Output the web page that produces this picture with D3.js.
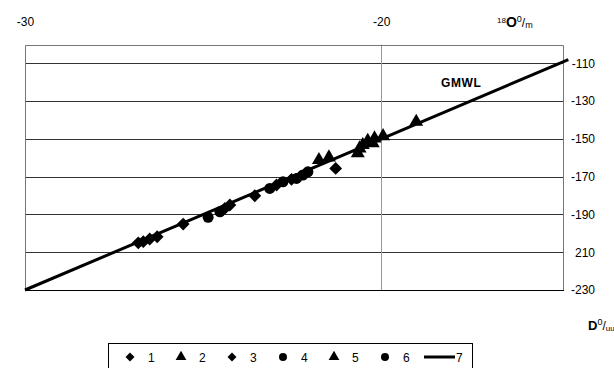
<!DOCTYPE html>
<html>
<head>
<meta charset="utf-8">
<script src="https://cdn.jsdelivr.net/npm/d3@7"></script>
<style>
	body { margin: 0; background: #fff; }
	svg { font-family: 'Liberation Sans', Arial, sans-serif; }
	.axis path { display: none; }
	.axis text { font-size: 12px; fill: #000; }
</style>
</head>
<body>
<svg id="chart" width="614" height="368"></svg>
<script>
'use strict';

// values (d18O, dD)
var xTicks = [-30, -20];
var yTicks = [-110, -130, -150, -170, -190, -210, -230];
var yTickLabels = ['-110', '-130', '-150', '-170', '-190', '210', '-230'];

var series1 = [[-26.82,-205.0],[-26.68,-204.4],[-26.29,-201.8],[-25.56,-195.1],[-23.55,-180.1]];
var series2 = [[-21.75,-161.2],[-21.47,-159.8],[-19.02,-140.9]];
var series3 = [[-26.50,-203.0],[-24.39,-186.8],[-24.25,-185.0],[-22.94,-174.4],[-22.52,-171.4],[-21.28,-165.6]];
var series4 = [[-24.86,-191.5],[-24.53,-188.6],[-23.13,-176.2],[-22.76,-172.7]];
var series5 = [[-20.66,-157.6],[-20.61,-155.0],[-20.52,-153.2],[-20.38,-151.0],[-20.24,-152.3],[-20.19,-149.7],[-19.95,-148.5]];
var series6 = [[-22.38,-170.9],[-22.20,-169.1],[-22.06,-167.4]];
var gmwl = [[-30,-230],[-14.75,-108]];

var legendNames = ['1','2','3','4','5','6','7'];

var svg = d3.select('#chart');

var x = d3.scaleLinear().domain([-30, -14.9]).range([25, 563]);
var y = d3.scaleLinear().domain([-230, -100]).range([290, 44.5]);

var plot = svg.append('g');

// grid
plot.selectAll('.hgrid')
	.data(yTicks.slice(0, -1))
	.enter().append('line')
		.attr('x1', x.range()[0]).attr('x2', x.range()[1])
		.attr('y1', d => Math.round(y(d)) + 0.5).attr('y2', d => Math.round(y(d)) + 0.5)
		.attr('stroke', '#333')
		;
plot.selectAll('.vgrid')
	.data(xTicks.slice(1))
	.enter().append('line')
		.attr('x1', d => Math.round(x(d)) + 0.5).attr('x2', d => Math.round(x(d)) + 0.5)
		.attr('y1', y.range()[1]).attr('y2', y.range()[0])
		.attr('stroke', '#999')
		;

// frame
plot.append('path')
	.attr('d', 'M' + (x.range()[0] + 0.5) + ',' + y.range()[0]
		+ 'V' + (Math.round(y.range()[1]) + 0.5)
		+ 'H' + (x.range()[1] + 0.5)
		+ 'V' + y.range()[0])
	.attr('fill', 'none')
	.attr('stroke', '#777')
	;
plot.append('line')
	.attr('x1', x.range()[0]).attr('x2', x.range()[1] + 1)
	.attr('y1', y(-230) + 0.5).attr('y2', y(-230) + 0.5)
	.attr('stroke', '#000')
	;

// axes
svg.append('g')
	.attr('class', 'x axis')
	.attr('transform', 'translate(0,' + y.range()[1] + ')')
	.call(d3.axisTop(x).tickValues(xTicks).tickSize(0).tickPadding(19).tickFormat(d => String(d)))
	;
var yAxis = svg.append('g')
	.attr('class', 'y axis')
	.attr('transform', 'translate(' + x.range()[1] + ',0)')
	.call(d3.axisRight(y).tickValues(yTicks).tickSize(0)
		.tickFormat((d, i) => yTickLabels[i]))
	;
yAxis.selectAll('text')
	.attr('text-anchor', 'end')
	.attr('x', 32)
	;

// GMWL line
var line = d3.line().x(d => x(d[0])).y(d => y(d[1]));
svg.append('path')
	.datum(gmwl)
	.attr('d', line)
	.attr('fill', 'none')
	.attr('stroke', '#000')
	.attr('stroke-width', 3)
	;
svg.append('text')
	.attr('x', 441).attr('y', 87)
	.attr('font-size', 12).attr('font-weight', 'bold')
	.attr('letter-spacing', 0.6)
	.text('GMWL')
	;

// markers
var diamond = d3.symbol(d3.symbolSquare, 82)();
var triangle = d3.symbol(d3.symbolTriangle, 85)();
var circle = d3.symbol(d3.symbolCircle, 95)();
var shapes = [
	{ data: series1, path: diamond, rot: 45 },
	{ data: series2, path: triangle, rot: 0 },
	{ data: series3, path: diamond, rot: 45 },
	{ data: series4, path: circle, rot: 0 },
	{ data: series5, path: triangle, rot: 0 },
	{ data: series6, path: circle, rot: 0 }
];
shapes.forEach(function(s) {
	svg.append('g').selectAll('path')
		.data(s.data)
		.enter().append('path')
			.attr('d', s.path)
			.attr('transform', d => 'translate(' + x(d[0]) + ',' + y(d[1]) + ') rotate(' + s.rot + ')')
			.attr('fill', '#000')
		;
});

// axis titles
var t1 = svg.append('text').attr('x', 497).attr('y', 27).attr('font-size', 12);
t1.append('tspan').attr('font-size', 8).attr('dy', -4).text('18');
t1.append('tspan').attr('font-weight', 'bold').attr('font-size', 14).attr('dy', 4).text('O');
t1.append('tspan').attr('font-size', 9).attr('dy', -5).text('0');
t1.append('tspan').attr('font-size', 12).attr('dy', 5).text('/');
t1.append('tspan').attr('font-size', 9).attr('dy', 1).text('m');

var t2 = svg.append('text').attr('x', 588).attr('y', 330).attr('font-size', 12);
t2.append('tspan').attr('font-weight', 'bold').attr('font-size', 13).text('D');
t2.append('tspan').attr('font-size', 9).attr('dy', -5).text('0');
t2.append('tspan').attr('font-size', 12).attr('dy', 5).text('/');
t2.append('tspan').attr('font-size', 8).attr('dy', 1).text('uu');

// legend
var legend = svg.append('g');
legend.append('rect')
	.attr('x', 108.5).attr('y', 343.5)
	.attr('width', 364).attr('height', 40)
	.attr('fill', '#fff').attr('stroke', '#000')
	;
var legendX = d3.scalePoint().domain(legendNames.slice(0, 6)).range([130, 385]);
var legendShapes = [
	{ path: d3.symbol(d3.symbolSquare, 40)(), rot: 45 },
	{ path: d3.symbol(d3.symbolTriangle, 50)(), rot: 0 },
	{ path: d3.symbol(d3.symbolSquare, 40)(), rot: 45 },
	{ path: d3.symbol(d3.symbolCircle, 50)(), rot: 0 },
	{ path: d3.symbol(d3.symbolTriangle, 50)(), rot: 0 },
	{ path: d3.symbol(d3.symbolCircle, 50)(), rot: 0 }
];
legendNames.forEach(function(name, i) {
	if (i < 6) {
		var cx = legendX(name);
		legend.append('path')
			.attr('d', legendShapes[i].path)
			.attr('transform', 'translate(' + cx + ',357) rotate(' + legendShapes[i].rot + ')')
			.attr('fill', '#000');
		legend.append('text')
			.attr('x', cx + 18).attr('y', 362)
			.attr('font-size', 12)
			.text(name);
	} else {
		legend.append('line')
			.attr('x1', 424).attr('x2', 455)
			.attr('y1', 357).attr('y2', 357)
			.attr('stroke', '#000').attr('stroke-width', 3);
		legend.append('text')
			.attr('x', 456).attr('y', 362)
			.attr('font-size', 12)
			.text(name);
	}
});
</script>
</body>
</html>
